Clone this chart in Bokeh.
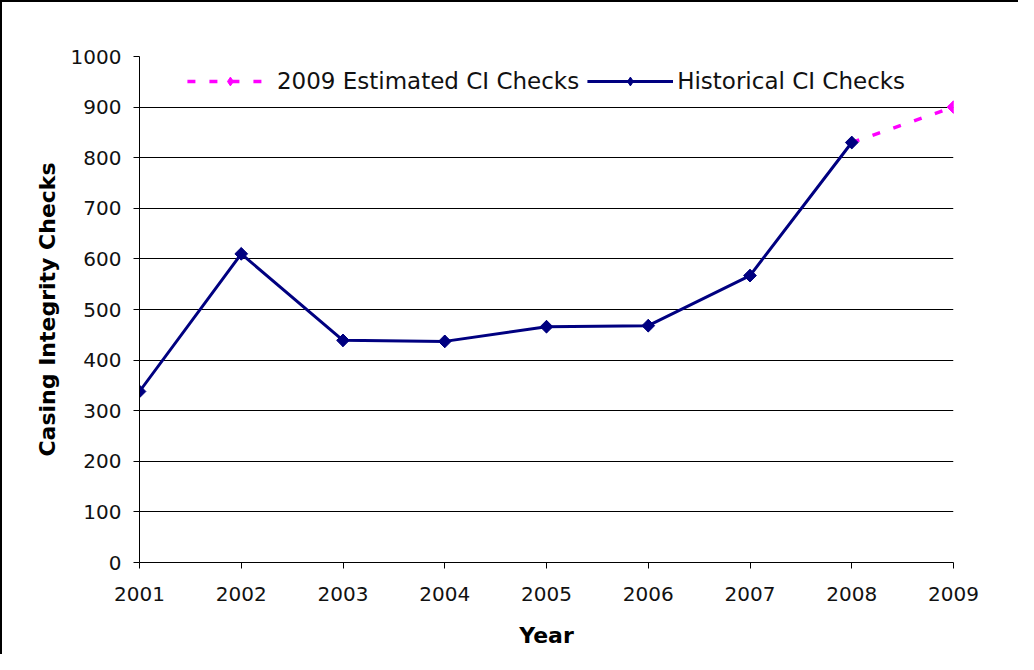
import math
from bokeh.plotting import figure
from bokeh.models import Range1d, FixedTicker, Legend, LegendItem
from bokeh.embed import file_html
from bokeh.resources import INLINE

years = [2001, 2002, 2003, 2004, 2005, 2006, 2007, 2008]
historical = [338, 610, 439, 437, 466, 468, 567, 830]
est_years = [2008, 2009]
estimated = [830, 900]
x_ticks = [2001, 2002, 2003, 2004, 2005, 2006, 2007, 2008, 2009]
y_ticks = [0, 100, 200, 300, 400, 500, 600, 700, 800, 900, 1000]

FONT = "DejaVu Sans"
NAVY = "#000080"
MAGENTA = "#FF00FF"

p = figure(width=1018, height=654, output_backend="svg", toolbar_location=None,
           x_range=Range1d(2001, 2009), y_range=Range1d(0, 1000),
           min_border_left=137, min_border_right=67, min_border_top=54,
           min_border_bottom=94)
p.outline_line_color = None
p.styles = {"border-top": "2px solid black", "border-left": "2px solid black"}

p.xgrid.grid_line_color = None
p.ygrid.grid_line_color = "black"
p.ygrid.grid_line_width = 1
p.ygrid.ticker = FixedTicker(ticks=y_ticks)

for ax in (p.xaxis[0], p.yaxis[0]):
    ax.axis_line_color = "black"
    ax.major_tick_line_color = "black"
    ax.minor_tick_line_color = None
    ax.major_tick_in = 0
    ax.major_tick_out = 6
    ax.major_label_text_font = FONT
    ax.major_label_text_font_size = "20px"
    ax.major_label_text_color = "#111111"
    ax.axis_label_text_font = FONT
    ax.axis_label_text_font_size = "22px"
    ax.axis_label_text_font_style = "bold"
    ax.axis_label_text_color = "black"

p.xaxis.ticker = FixedTicker(ticks=x_ticks)
p.yaxis.ticker = FixedTicker(ticks=y_ticks)
p.xaxis.axis_label = "Year"
p.yaxis.axis_label = "Casing Integrity Checks"
p.xaxis.major_label_standoff = 18
p.xaxis.axis_label_standoff = 19
p.yaxis.major_label_standoff = 12
p.yaxis.axis_label_standoff = 8

est_line = p.line(est_years, estimated, line_color=MAGENTA, line_width=3.5, line_dash="8 14")
est_key = p.scatter(est_years[1:], estimated[1:], marker="diamond", size=12,
                    fill_color=MAGENTA, line_color=MAGENTA)
p.scatter(est_years[1:], estimated[1:], marker="square", size=9, angle=math.pi / 4,
          fill_color=MAGENTA, line_color=MAGENTA)
hist_line = p.line(years, historical, line_color=NAVY, line_width=3)
hist_key = p.scatter(years, historical, marker="diamond", size=12,
                     fill_color=NAVY, line_color=NAVY)
p.scatter(years, historical, marker="square", size=9, angle=math.pi / 4,
          fill_color=NAVY, line_color=NAVY)

legend = Legend(items=[
    LegendItem(label="2009 Estimated CI Checks", renderers=[est_line, est_key]),
    LegendItem(label="Historical CI Checks", renderers=[hist_line, hist_key]),
], orientation="horizontal", location="top_center",
    label_text_font=FONT, label_text_font_size="23px", label_text_color="#111111",
    glyph_width=86, glyph_height=22, spacing=8, label_standoff=4,
    border_line_color=None, background_fill_alpha=0, margin=12, padding=4)
p.add_layout(legend)

open("out.html", "w").write(file_html(p, INLINE))
